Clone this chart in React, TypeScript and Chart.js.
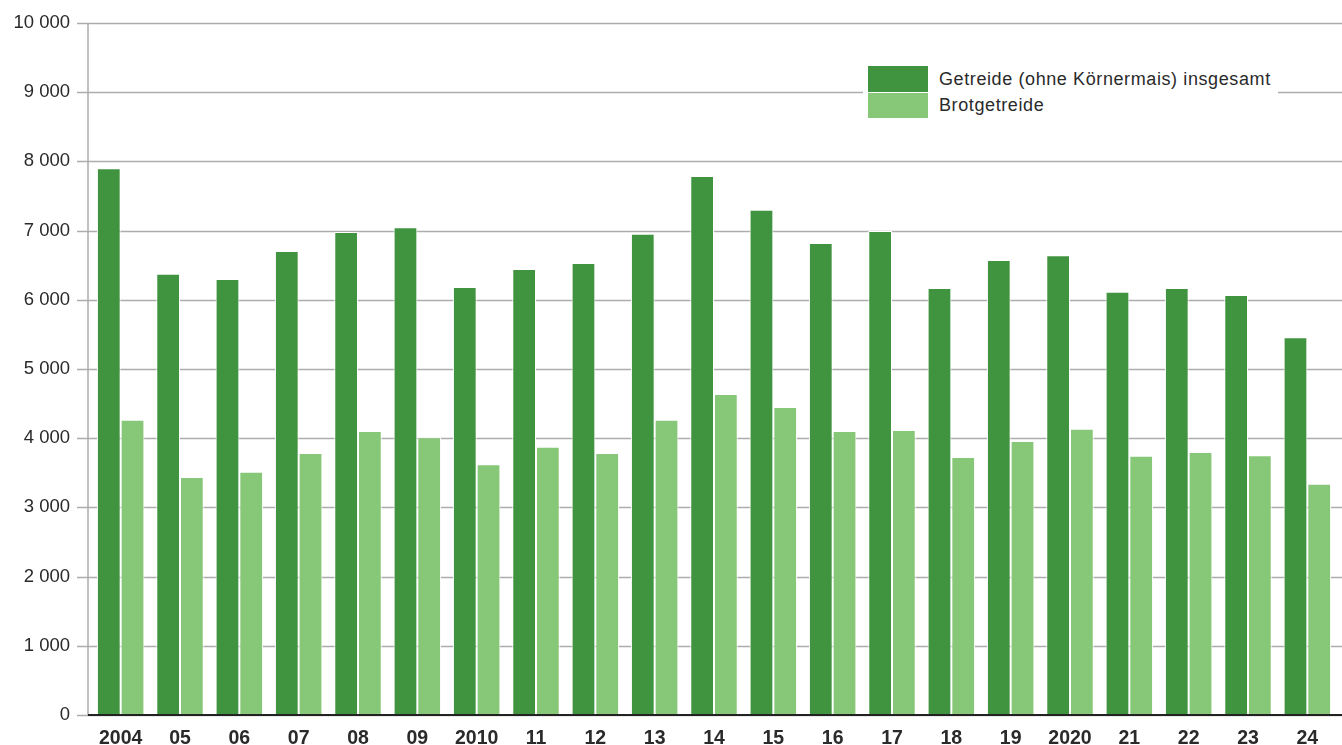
import React, { useEffect, useRef } from "react";
import { Chart, registerables } from "chart.js";

Chart.register(...registerables);

const years = ["2004", "05", "06", "07", "08", "09", "2010", "11", "12", "13", "14", "15", "16", "17", "18", "19", "2020", "21", "22", "23", "24"];
const getreide = [7900, 6375, 6300, 6705, 6980, 7050, 6185, 6445, 6530, 6955, 7790, 7300, 6820, 6995, 6170, 6575, 6645, 6115, 6170, 6070, 5460];
const brotgetreide = [4265, 3440, 3515, 3785, 4105, 4015, 3625, 3875, 3785, 4265, 4640, 4450, 4105, 4120, 3730, 3960, 4135, 3745, 3800, 3755, 3340];
const seriesNames = ["Getreide (ohne Körnermais) insgesamt", "Brotgetreide"];
const colors = ["#40943f", "#87c878"];

const W = 1342;
const H = 745;
const FONT = "'Liberation Sans', Arial, Helvetica, sans-serif";

const fmt = (v: number) => String(v).replace(/\B(?=(\d{3})+(?!\d))/g, " ");

const gridPlugin = {
  id: "customGrid",
  beforeDatasetsDraw(chart: any) {
    const { ctx, chartArea, scales } = chart;
    const y = scales.y;
    ctx.save();
    ctx.strokeStyle = "#adadad";
    ctx.lineWidth = 1.5;
    y.ticks.forEach((t: any) => {
      const py = Math.round(y.getPixelForValue(t.value)) + 0.5;
      ctx.beginPath();
      ctx.moveTo(77, py);
      ctx.lineTo(chart.width, py);
      ctx.stroke();
    });
    ctx.beginPath();
    ctx.moveTo(88, chartArea.top);
    ctx.lineTo(88, chartArea.bottom);
    ctx.stroke();
    ctx.restore();
  },
  afterDatasetsDraw(chart: any) {
    const { ctx, chartArea } = chart;
    ctx.save();
    ctx.strokeStyle = "#222222";
    ctx.lineWidth = 2;
    ctx.beginPath();
    ctx.moveTo(88, chartArea.bottom);
    ctx.lineTo(chart.width, chartArea.bottom);
    ctx.stroke();
    ctx.restore();
  },
};

export default function App() {
  const ref = useRef<HTMLCanvasElement | null>(null);

  useEffect(() => {
    if (!ref.current) return;
    const chart = new Chart(ref.current, {
      type: "bar",
      data: {
        labels: years,
        datasets: [
          {
            label: seriesNames[0],
            data: getreide,
            backgroundColor: colors[0],
            borderColor: "#ffffff",
            borderWidth: 1,
            categoryPercentage: 0.8,
            barPercentage: 1,
          },
          {
            label: seriesNames[1],
            data: brotgetreide,
            backgroundColor: colors[1],
            borderColor: "#ffffff",
            borderWidth: 1,
            categoryPercentage: 0.8,
            barPercentage: 1,
          },
        ],
      },
      options: {
        responsive: false,
        animation: false,
        devicePixelRatio: 1,
        layout: { padding: { top: 23, right: 5, left: 0, bottom: 0 } },
        plugins: { legend: { display: false }, tooltip: { enabled: false } },
        scales: {
          x: {
            grid: { display: false, drawTicks: false, tickLength: 0 },
            border: { display: false },
            ticks: {
              color: "#2a2a2a",
              font: { family: FONT, size: 19.5, weight: "bold" },
              padding: 12,
              maxRotation: 0,
              autoSkip: false,
            },
            afterFit(scale: any) {
              scale.height = 30;
              scale.paddingLeft = 0;
              scale.paddingRight = 0;
            },
          },
          y: {
            min: 0,
            max: 10000,
            grid: { display: false, drawTicks: false, tickLength: 0 },
            border: { display: false },
            ticks: {
              stepSize: 1000,
              color: "#2a2a2a",
              font: { family: FONT, size: 18.5 },
              padding: 21,
              callback: (v: any) => fmt(Number(v)),
            },
            afterFit(scale: any) {
              scale.width = 91;
              scale.paddingTop = 0;
              scale.paddingBottom = 0;
            },
          },
        },
      },
      plugins: [gridPlugin],
    } as any);
    return () => chart.destroy();
  }, []);

  return (
    <div style={{ position: "fixed", left: 0, top: 0, width: W, height: H, background: "#fff" }}>
      <canvas ref={ref} width={W} height={H} style={{ width: W, height: H, display: "block" }} />
      <div
        style={{
          position: "absolute",
          left: 863,
          top: 60,
          width: 415,
          height: 64,
          background: "#fff",
          fontFamily: FONT,
          fontSize: 18,
          letterSpacing: 0.6,
          color: "#2a2a2a",
        }}
      >
        {seriesNames.map((n, i) => (
          <div key={n} style={{ position: "absolute", left: 5, top: 6 + i * 26.5, height: 26, display: "flex", alignItems: "center" }}>
            <div style={{ width: 60, height: 25.5, background: colors[i], marginRight: 11 }} />
            <span style={{ whiteSpace: "nowrap" }}>{n}</span>
          </div>
        ))}
      </div>
    </div>
  );
}
